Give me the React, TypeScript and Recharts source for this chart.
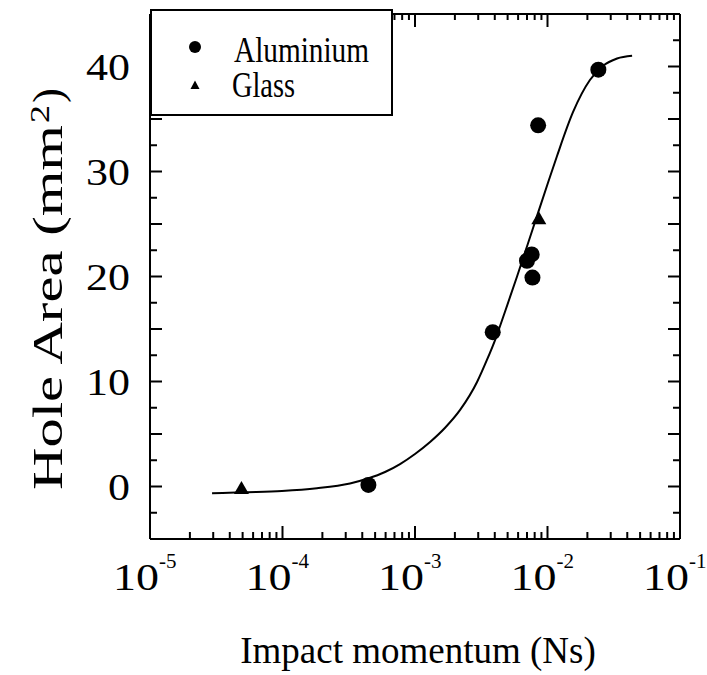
import React from 'react';
import { ComposedChart, XAxis, YAxis, Line, Scatter, Legend } from 'recharts';

const FONT = '"Liberation Serif", "Times New Roman", Times, serif';

// Axis ticks
const decades = [1e-5, 1e-4, 1e-3, 1e-2, 1e-1];
const decadeExponents = ['-5', '-4', '-3', '-2', '-1'];
const minorSteps = [2, 3, 4, 5, 6, 7, 8, 9];
const areaTicks = [-5, -2.5, 0, 2.5, 5, 7.5, 10, 12.5, 15, 17.5, 20, 22.5, 25, 27.5, 30, 32.5, 35, 37.5, 40, 42.5, 45];
const areaLabels = [0, 10, 20, 30, 40];

// Measured impacts
const aluminiumMomentum = [4.45e-4, 3.86e-3, 7.0e-3, 7.6e-3, 7.7e-3, 8.5e-3, 2.42e-2];
const aluminiumArea = [0.15, 14.7, 21.5, 22.1, 19.9, 34.4, 39.7];
const glassMomentum = [4.9e-5, 8.6e-3];
const glassArea = [-0.1, 25.6];

// Fitted curve
const fitMomentum = [2.94e-5, 4.94e-5, 9.9e-5, 1.82e-4, 3.23e-4, 4.41e-4, 5.94e-4, 7.71e-4, 1.0e-3, 1.3e-3, 1.68e-3, 2.19e-3, 2.94e-3, 3.49e-3, 4.02e-3, 4.77e-3, 5.89e-3, 7.78e-3, 1.01e-2, 1.18e-2, 1.56e-2, 2.09e-2, 2.62e-2, 3.35e-2, 4.35e-2];
const fitArea = [-0.65, -0.55, -0.43, -0.17, 0.29, 0.76, 1.38, 2.14, 3.1, 4.24, 5.57, 7.29, 9.95, 12.05, 13.95, 16.62, 20.0, 24.62, 28.95, 31.48, 35.67, 38.71, 40.05, 40.76, 41.02];

const seriesNames = ['Aluminium', 'Glass'];

const aluminiumData = aluminiumMomentum.map((m, i) => ({ momentum: m, area: aluminiumArea[i] }));
const glassData = glassMomentum.map((m, i) => ({ momentum: m, area: glassArea[i] }));
const fitData = fitMomentum.map((m, i) => ({ momentum: m, area: fitArea[i] }));

const momentumTicks = decades.flatMap((d, i) =>
  i < decades.length - 1 ? [d, ...minorSteps.map((s) => s * d)] : [d]
);

const decadeIndex = (v: number) => decades.findIndex((d) => Math.abs(v / d - 1) < 1e-6);

const BottomTick = (props: any) => {
  const { x, y, payload } = props;
  const idx = decadeIndex(payload.value);
  const major = idx >= 0;
  return (
    <g>
      <path d={`M${x},${y}V${y - (major ? 13 : 7)}`} stroke="#000" strokeWidth={2} fill="none" />
      {major && (
        <>
          <text x={x - 37} y={y + 51} fontFamily={FONT} fontSize={38} fill="#000" textLength={46} lengthAdjust="spacingAndGlyphs">
            10
          </text>
          <text x={x + 9} y={y + 29} fontFamily={FONT} fontSize={21} fill="#000">
            {decadeExponents[idx]}
          </text>
        </>
      )}
    </g>
  );
};

const TopTick = (props: any) => {
  const { x, y, payload } = props;
  const major = decadeIndex(payload.value) >= 0;
  return <path d={`M${x},${y}V${y + (major ? 13 : 6)}`} stroke="#000" strokeWidth={2} fill="none" />;
};

const LeftTick = (props: any) => {
  const { x, y, payload } = props;
  const v = payload.value as number;
  const major = v % 5 === 0;
  const labelled = areaLabels.includes(v);
  const s = String(v);
  const len = s.length * 22;
  return (
    <g>
      <path d={`M${x},${y}H${x + (major ? 12 : 7)}`} stroke="#000" strokeWidth={2} fill="none" />
      {labelled && (
        <text x={x - 20 - len} y={y + 13} fontFamily={FONT} fontSize={38} fill="#000" textLength={len} lengthAdjust="spacingAndGlyphs">
          {s}
        </text>
      )}
    </g>
  );
};

const RightTick = (props: any) => {
  const { x, y, payload } = props;
  const major = (payload.value as number) % 5 === 0;
  return <path d={`M${x - (major ? 12 : 7)},${y}H${x}`} stroke="#000" strokeWidth={2} fill="none" />;
};

const AreaLabel = () => (
  <g transform="translate(62, 490) rotate(-90)" fontFamily={FONT} fill="#000">
    <text x={0} y={0} fontSize={42} textLength={365} lengthAdjust="spacingAndGlyphs">
      Hole Area (mm
    </text>
    <text x={367} y={-13} fontSize={28} textLength={18} lengthAdjust="spacingAndGlyphs">
      2
    </text>
    <text x={387} y={0} fontSize={42} textLength={15} lengthAdjust="spacingAndGlyphs">
      )
    </text>
  </g>
);

const MomentumLabel = () => (
  <text x={418} y={663} textAnchor="middle" fontFamily={FONT} fontSize={37} fill="#000">
    Impact momentum (Ns)
  </text>
);

const Dot = (props: any) => <circle cx={props.cx} cy={props.cy} r={8} fill="#000" />;

const Tri = (props: any) => {
  const { cx, cy } = props;
  return (
    <polygon
      points={`${cx},${cy - 6.5} ${cx + 7.5},${cy + 6.5} ${cx - 7.5},${cy + 6.5}`}
      fill="#000"
    />
  );
};

const LegendBox = () => (
  <svg width={243} height={107} style={{ display: 'block', overflow: 'visible' }}>
    <rect x={1} y={1} width={241} height={105} fill="#fff" stroke="#000" strokeWidth={2} />
    <circle cx={45} cy={38} r={6} fill="#000" />
    <polygon points="45,71.5 49.5,80 40.5,80" fill="#000" />
    <text x={84} y={53} fontFamily={FONT} fontSize={36} fill="#000" textLength={135} lengthAdjust="spacingAndGlyphs">
      {seriesNames[0]}
    </text>
    <text x={82} y={88} fontFamily={FONT} fontSize={36} fill="#000" textLength={63} lengthAdjust="spacingAndGlyphs">
      {seriesNames[1]}
    </text>
  </svg>
);

const axisLine = { stroke: '#000', strokeWidth: 2 };

export default function App() {
  return (
    <div style={{ position: 'absolute', left: 0, top: 0, background: '#fff' }}>
      <ComposedChart width={707} height={675} margin={{ top: 13, right: 26, bottom: 0, left: 0 }}>
        <XAxis
          xAxisId="bottom"
          type="number"
          dataKey="momentum"
          scale="log"
          domain={[1e-5, 1e-1]}
          allowDataOverflow
          ticks={momentumTicks}
          interval={0}
          tick={<BottomTick />}
          tickLine={false}
          tickSize={0}
          tickMargin={0}
          axisLine={axisLine}
          height={136}
          label={<MomentumLabel />}
        />
        <XAxis
          xAxisId="top"
          orientation="top"
          type="number"
          dataKey="momentum"
          scale="log"
          domain={[1e-5, 1e-1]}
          allowDataOverflow
          ticks={momentumTicks}
          interval={0}
          tick={<TopTick />}
          tickLine={false}
          tickSize={0}
          tickMargin={0}
          axisLine={axisLine}
          height={1}
        />
        <YAxis
          yAxisId="left"
          type="number"
          dataKey="area"
          domain={[-5, 45]}
          allowDataOverflow
          ticks={areaTicks}
          interval={0}
          tick={<LeftTick />}
          tickLine={false}
          tickSize={0}
          tickMargin={0}
          axisLine={axisLine}
          width={150}
          label={<AreaLabel />}
        />
        <YAxis
          yAxisId="right"
          orientation="right"
          type="number"
          dataKey="area"
          domain={[-5, 45]}
          allowDataOverflow
          ticks={areaTicks}
          interval={0}
          tick={<RightTick />}
          tickLine={false}
          tickSize={0}
          tickMargin={0}
          axisLine={axisLine}
          width={1}
        />
        <Line
          data={fitData}
          dataKey="area"
          xAxisId="bottom"
          yAxisId="left"
          type="monotone"
          stroke="#000"
          strokeWidth={2}
          dot={false}
          activeDot={false}
          legendType="none"
          isAnimationActive={false}
        />
        <Scatter
          name={seriesNames[0]}
          data={aluminiumData}
          dataKey="area"
          xAxisId="bottom"
          yAxisId="left"
          shape={<Dot />}
          fill="#000"
          isAnimationActive={false}
        />
        <Scatter
          name={seriesNames[1]}
          data={glassData}
          dataKey="area"
          xAxisId="bottom"
          yAxisId="left"
          shape={<Tri />}
          fill="#000"
          isAnimationActive={false}
        />
        <Legend
          content={<LegendBox />}
          layout="horizontal"
          verticalAlign="middle"
          align="center"
          wrapperStyle={{ left: 150, top: 9, width: 243, height: 107 }}
        />
      </ComposedChart>
    </div>
  );
}
